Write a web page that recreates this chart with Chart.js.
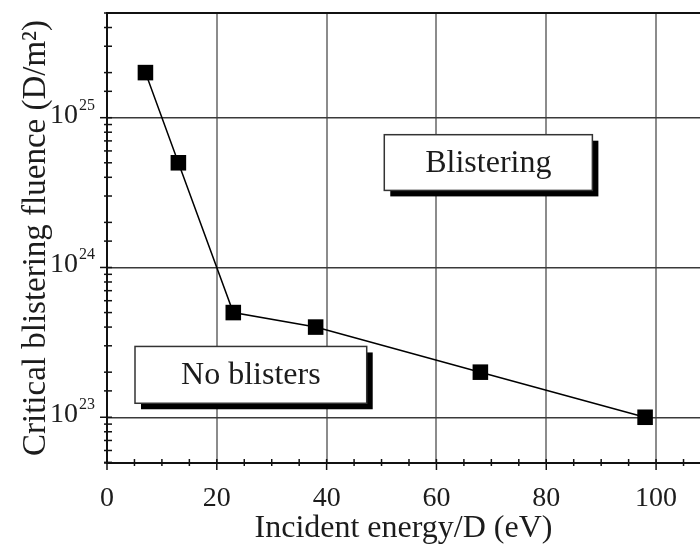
<!DOCTYPE html>
<html>
<head>
<meta charset="utf-8">
<script src="https://cdn.jsdelivr.net/npm/chart.js@4.4.1/dist/chart.umd.min.js"></script>
<style>
  html, body { margin: 0; padding: 0; background: #fff; overflow: hidden; }
  #wrap { width: 700px; height: 548px; }
</style>
</head>
<body>
<div id="wrap"><canvas id="blisterChart"></canvas></div>
<script>
/*===== DATA =====*/
const energies = [7, 13, 23, 38, 68, 98];                 // incident energy, eV/D
const fluences = [2e25, 5e24, 5e23, 4e23, 2e23, 1e23];    // critical fluence, D/m^2
const yDecades = [1e23, 1e24, 1e25];
const yExponents = ["23", "24", "25"];
const regionLabels = ["Blistering", "No blisters"];

const serif = "'Liberation Serif', 'Times New Roman', serif";
const ink = "#1c1c1c";

const isDecade = (v) => Math.abs(Math.log10(v) - Math.round(Math.log10(v))) < 1e-6;

/*===== PLUGIN : frame, minor ticks, 10^n labels, region boxes =====*/
const figureExtras = {
  id: "figureExtras",
  beforeDatasetsDraw(chart) {
    const { ctx, scales } = chart;
    const x = scales.x, y = scales.y;
    // text boxes with drop shadow, placed in data units
    const boxes = [
      { text: regionLabels[0], x0: 50.5, x1: 88.4, yHi: 7.7e24, yLo: 3.27e24 },
      { text: regionLabels[1], x0: 5.1, x1: 47.3, yHi: 2.97e23, yLo: 1.24e23 },
    ];
    boxes.forEach((b) => {
      const l = x.getPixelForValue(b.x0), r = x.getPixelForValue(b.x1);
      const t = y.getPixelForValue(b.yHi), btm = y.getPixelForValue(b.yLo);
      ctx.save();
      ctx.fillStyle = "#000";
      ctx.fillRect(l + 6, t + 6, r - l, btm - t);
      ctx.fillStyle = "#fff";
      ctx.fillRect(l, t, r - l, btm - t);
      ctx.strokeStyle = "#333";
      ctx.lineWidth = 1.5;
      ctx.strokeRect(l, t, r - l, btm - t);
      ctx.fillStyle = ink;
      ctx.font = "32px " + serif;
      ctx.textAlign = "center";
      ctx.textBaseline = "middle";
      ctx.fillText(b.text, (l + r) / 2, (t + btm) / 2 + 1);
      ctx.restore();
    });
  },
  afterDraw(chart) {
    const { ctx, chartArea, scales } = chart;
    const x = scales.x, y = scales.y;
    ctx.save();
    ctx.strokeStyle = "#111";
    // top frame line
    ctx.lineWidth = 2;
    ctx.beginPath();
    ctx.moveTo(chartArea.left, chartArea.top);
    ctx.lineTo(chartArea.right, chartArea.top);
    ctx.stroke();

    // x ticks: major every 20, minor every 5
    ctx.lineWidth = 1.5;
    for (let v = 0; v <= x.max; v += 5) {
      const px = x.getPixelForValue(v);
      const major = v % 20 === 0;
      ctx.beginPath();
      ctx.moveTo(px, chartArea.bottom - 4);
      ctx.lineTo(px, chartArea.bottom + (major ? 7 : 3));
      ctx.stroke();
    }

    // y ticks on log scale (2..9 x 10^n minor)
    y.ticks.forEach((t) => {
      const v = t.value;
      if (v < y.min || v > y.max) return;
      const py = y.getPixelForValue(v);
      const major = isDecade(v);
      ctx.beginPath();
      ctx.moveTo(chartArea.left - (major ? 7 : 3), py);
      ctx.lineTo(chartArea.left + 5, py);
      ctx.stroke();
    });

    // 10^n labels
    ctx.fillStyle = ink;
    yDecades.forEach((d, i) => {
      const py = y.getPixelForValue(d);
      ctx.textAlign = "right";
      ctx.textBaseline = "alphabetic";
      ctx.font = "28px " + serif;
      ctx.fillText("10", 78, py + 5);
      ctx.textAlign = "left";
      ctx.font = "16px " + serif;
      ctx.fillText(yExponents[i], 79, py - 8);
    });
    ctx.restore();
  },
};

/*===== CHART =====*/
function createBlisterChart() {
  const ctx = document.getElementById("blisterChart").getContext("2d");
  const points = energies.map((e, i) => ({ x: e, y: fluences[i] }));

  new Chart(ctx, {
    type: "line",
    data: {
      datasets: [
        {
          data: points,
          borderColor: "#000",
          borderWidth: 1.5,
          backgroundColor: "#000",
          pointStyle: "rect",
          pointRadius: 11,
          pointBorderWidth: 0,
          tension: 0,
          clip: false,
        },
      ],
    },
    options: {
      responsive: true,
      maintainAspectRatio: false,
      animation: false,
      layout: { autoPadding: false, padding: { top: 13, right: 0, left: 0, bottom: 0 } },
      plugins: { legend: { display: false }, tooltip: { enabled: false } },
      scales: {
        x: {
          type: "linear",
          min: 0,
          max: 108,
          afterFit: (scale) => {
            scale.height = 85;
            scale.paddingLeft = 0;
            scale.paddingRight = 0;
          },
          ticks: {
            stepSize: 20,
            includeBounds: false,
            padding: 19,
            color: ink,
            font: { family: serif, size: 28 },
          },
          grid: {
            drawTicks: false,
            lineWidth: 2,
            color: (c) => (c.tick && c.tick.value === 0 ? "rgba(0,0,0,0)" : "#8c8c8c"),
          },
          border: { display: true, color: "#111", width: 2 },
          title: {
            display: true,
            text: "Incident energy/D (eV)",
            color: ink,
            font: { family: serif, size: 32 },
            padding: { top: 0, bottom: 0 },
          },
        },
        y: {
          type: "logarithmic",
          min: 4.95e22,
          max: 5e25,
          afterFit: (scale) => {
            scale.width = 107;
            scale.paddingTop = 0;
            scale.paddingBottom = 0;
          },
          ticks: { display: false, autoSkip: false },
          grid: {
            drawTicks: false,
            lineWidth: 1.5,
            color: (c) => (c.tick && isDecade(c.tick.value) ? "#3a3a3a" : "rgba(0,0,0,0)"),
          },
          border: { display: true, color: "#111", width: 2 },
          title: {
            display: true,
            text: "Critical blistering fluence (D/m²)",
            color: ink,
            font: { family: serif, size: 33 },
            padding: { top: 17, bottom: 0 },
          },
        },
      },
    },
    plugins: [figureExtras],
  });
}

createBlisterChart();
</script>
</body>
</html>
